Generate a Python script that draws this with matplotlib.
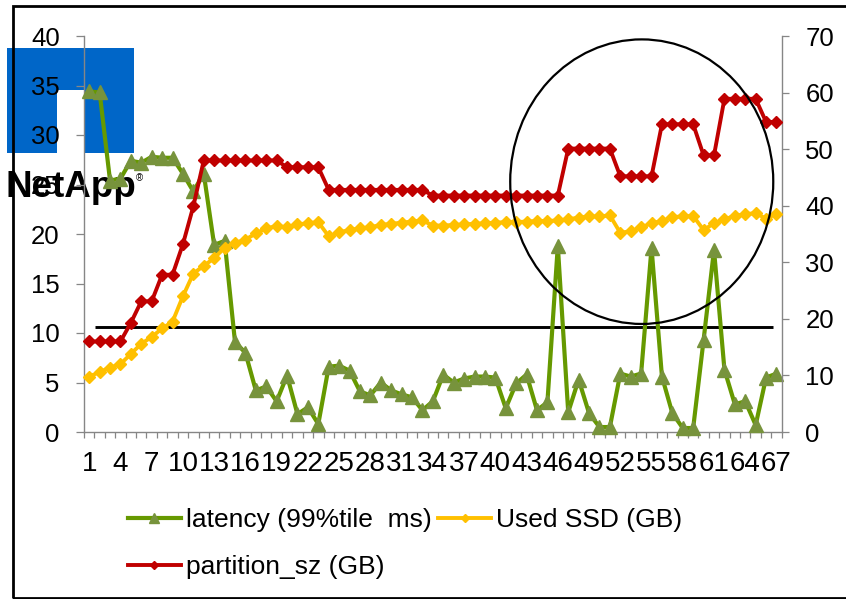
import matplotlib
matplotlib.use("Agg")
import matplotlib.pyplot as plt
from matplotlib.patches import Rectangle, Ellipse, Polygon
import numpy as np

plt.rcParams['font.family'] = ['Liberation Sans', 'DejaVu Sans']

# ---- data -------------------------------------------------------------
runs = list(range(1, 68))

latency_ms = [34.4, 34.3, 25.4, 25.6, 27.4, 27.2, 27.8, 27.7, 27.7, 26.1,
              24.3, 26.1, 18.9, 19.3, 9.1, 8.0, 4.2, 4.6, 3.1, 5.7,
              1.8, 2.5, 0.8, 6.6, 6.7, 6.2, 4.1, 3.7, 5.0, 4.2,
              3.8, 3.5, 2.2, 3.1, 5.8, 5.0, 5.4, 5.6, 5.6, 5.5,
              2.4, 4.9, 5.8, 2.2, 3.0, 18.8, 2.0, 5.3, 1.9, 0.5,
              0.5, 5.9, 5.6, 5.9, 18.6, 5.6, 1.9, 0.4, 0.4, 9.3,
              18.4, 6.3, 2.8, 3.1, 0.7, 5.5, 5.9]

used_ssd_gb = [9.8, 10.6, 11.4, 12.0, 13.8, 15.6, 16.8, 18.3, 19.5, 24.0,
               28.0, 29.4, 30.7, 32.6, 33.4, 34.0, 35.1, 36.0, 36.4, 36.2,
               36.7, 36.9, 37.1, 34.6, 35.3, 35.7, 36.0, 36.2, 36.6, 36.8,
               37.0, 37.2, 37.4, 36.5, 36.5, 36.6, 36.7, 36.8, 36.9, 37.0,
               37.1, 37.1, 37.2, 37.3, 37.3, 37.4, 37.6, 37.9, 38.1, 38.1,
               38.3, 35.2, 35.5, 36.2, 36.9, 37.3, 38.0, 38.1, 38.2, 35.7,
               36.9, 37.6, 38.2, 38.5, 38.7, 37.7, 38.6]

partition_gb = [16.0, 16.0, 16.0, 16.0, 19.3, 23.1, 23.1, 27.8, 27.8, 33.2,
                39.9, 48.0, 48.0, 48.0, 48.0, 48.0, 48.0, 48.0, 48.0, 46.8,
                46.8, 46.8, 46.8, 42.8, 42.8, 42.8, 42.8, 42.8, 42.8, 42.8,
                42.8, 42.8, 42.8, 41.8, 41.8, 41.8, 41.8, 41.8, 41.8, 41.8,
                41.8, 41.8, 41.8, 41.8, 41.8, 41.8, 50.1, 50.1, 50.1, 50.1,
                50.1, 45.2, 45.2, 45.2, 45.2, 54.4, 54.4, 54.4, 54.4, 48.9,
                48.9, 58.9, 58.9, 58.9, 58.9, 54.8, 54.8]

tick_runs = list(range(1, 68, 3))
tick_labels = [str(r) for r in tick_runs]

series_names = ['latency (99%tile  ms)', 'Used SSD (GB)', 'partition_sz (GB)']

# SLA reference line (left axis, ms) and highlighted region (right axis, GB)
sla_level = 10.6
sla_span = (1.56, 66.66)
highlight_center = (54.06, 44.25)
highlight_size = (25.26, 50.3)

# ---- style ------------------------------------------------------------
GREEN_LINE = '#669900'
GREEN_MARK = '#77933C'
YELLOW = '#FFC000'
RED = '#C00000'
AXIS_GRAY = '#868686'
LOGO_BLUE = '#0066C8'

W, H = 846, 599
fig = plt.figure(figsize=(W / 100, H / 100), dpi=100)
fig.patch.set_facecolor('white')


def fx(px):
    return px / W


def fy(py):
    return 1 - py / H


# company logo behind the chart
logo = Polygon([(fx(7.3), fy(153.3)), (fx(7.3), fy(47.7)), (fx(134), fy(47.7)),
                (fx(134), fy(153.3)), (fx(85), fy(153.3)), (fx(85), fy(90)),
                (fx(56.7), fy(90)), (fx(56.7), fy(153.3))],
               closed=True, facecolor=LOGO_BLUE, edgecolor='none',
               transform=fig.transFigure, zorder=-2)
fig.add_artist(logo)
fig.text(fx(5), fy(197), 'NetApp', fontsize=26.5, fontweight='bold',
         ha='left', va='baseline', color='black', zorder=-1)
fig.text(fx(136), fy(181), '\u00ae', fontsize=7, ha='left', va='baseline',
         color='black', zorder=-1)

# outer frame
fig.add_artist(Rectangle((fx(13.3), fy(597.7)), fx(850) - fx(13.3),
                         fy(6) - fy(597.7), fill=False, edgecolor='black',
                         linewidth=2.0, transform=fig.transFigure, zorder=5))

ax = fig.add_axes([fx(84), fy(432), fx(781.7) - fx(84), fy(36) - fy(432)])
ax.patch.set_visible(False)
ax2 = ax.twinx()
ax2.patch.set_visible(False)

l_lat, = ax.plot(runs, latency_ms, color=GREEN_LINE, lw=3.0, marker='^',
                 ms=10, mfc=GREEN_MARK, mec=GREEN_MARK, clip_on=False,
                 zorder=3, label=series_names[0])
l_ssd, = ax2.plot(runs, used_ssd_gb, color=YELLOW, lw=2.8, marker='D',
                  ms=6.5, mfc=YELLOW, mec=YELLOW, clip_on=False, zorder=3,
                  label=series_names[1])
l_part, = ax2.plot(runs, partition_gb, color=RED, lw=2.8, marker='D',
                   ms=6.5, mfc=RED, mec=RED, clip_on=False, zorder=4,
                   label=series_names[2])

ax.plot(sla_span, [sla_level, sla_level], color='black', lw=2.1,
        solid_capstyle='butt', zorder=2)
ax2.add_patch(Ellipse(highlight_center, highlight_size[0], highlight_size[1],
                      fill=False, edgecolor='black', lw=1.6, clip_on=False,
                      zorder=5))

# ---- axes -------------------------------------------------------------
ax.set_xlim(0.5, 67.5)
ax.set_ylim(0, 40)
ax2.set_ylim(0, 70)

ax.set_xticks(tick_runs)
ax.set_xticklabels(tick_labels)
ax.set_xticks(np.arange(0.5, 68, 1), minor=True)
ax.tick_params(axis='x', which='major', length=0, pad=14, labelsize=20)
ax.tick_params(axis='x', which='minor', length=4, width=0.9,
               color=AXIS_GRAY, direction='out')

ax.set_yticks(np.arange(0, 41, 5))
ax.tick_params(axis='y', length=5.5, width=0.9, color=AXIS_GRAY, pad=12,
               labelsize=18.5, direction='out')
ax2.set_yticks(np.arange(0, 71, 10))
ax2.tick_params(axis='y', length=5, width=0.9, color=AXIS_GRAY, pad=12,
                labelsize=18.5, direction='out')

for s in ('top', 'right'):
    ax.spines[s].set_visible(False)
for s in ('top', 'left', 'bottom'):
    ax2.spines[s].set_visible(False)
for sp in (ax.spines['left'], ax.spines['bottom'], ax2.spines['right']):
    sp.set_color(AXIS_GRAY)
    sp.set_linewidth(1.0)

# legend: row-major order via column-major fill
fig.legend([l_lat, l_part, l_ssd],
           [series_names[0], series_names[2], series_names[1]],
           ncol=2, loc='upper left', bbox_to_anchor=(fx(128), fy(508)),
           frameon=False, fontsize=19, handlelength=2.0,
           handletextpad=0.2, columnspacing=0.25, borderpad=0,
           borderaxespad=0, labelspacing=0.88, markerscale=0.7)

fig.savefig('out.png', dpi=100, facecolor='white')
